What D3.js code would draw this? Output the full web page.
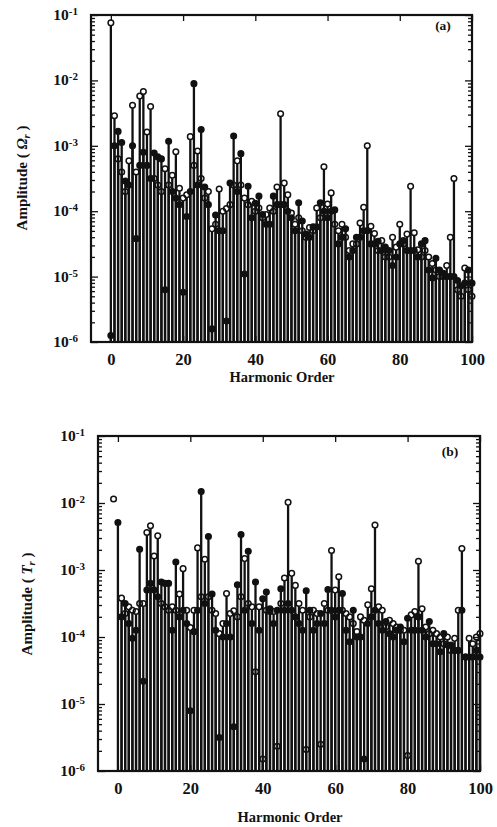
<!DOCTYPE html>
<html>
<head>
<meta charset="utf-8">
<script src="https://cdn.jsdelivr.net/npm/d3@7"></script>
<style>
  body { margin: 0; background: #fff; }
  svg { display: block; }
  text { font-family: "Liberation Serif", "DejaVu Serif", serif; font-weight: bold; fill: #111; }
</style>
</head>
<body>
<svg id="chart" width="497" height="827"></svg>
<script>
// harmonic orders 0..100, one stem per order for each series
const harmonics = d3.range(0, 101);
const xTicks = [0, 20, 40, 60, 80, 100];
const yDecades = [1e-1, 1e-2, 1e-3, 1e-4, 1e-5, 1e-6];

// values are read as log10(amplitude) off the log axis
// panel (a): open circles / filled circles
const aOpenExp = [
  -1.12, -2.54, -3.2, -3.4, -3.7, -3.23, -2.38, -3.4, -2.24, -2.17,
  -2.79, -2.4, -3.5, -3.6, -3.7, -3.35, -3.6, -3.45, -3.09, -3.65,
  -3.8, -3.75, -2.86, -3.3, -3.08, -3.5, -3.8, -3.7, -4.27, -4.2,
  -3.66, -4.0, -3.96, -3.9, -3.6, -3.23, -3.6, -3.8, -3.9, -3.85,
  -4.0, -3.95, -4.1, -4.05, -3.95, -4.0, -3.63, -2.51, -3.57, -3.75,
  -4.03, -4.2, -4.1, -4.3, -4.4, -4.25, -4.3, -3.95, -4.1, -3.32,
  -3.89, -3.72, -4.2, -4.3, -4.2, -4.4, -4.6, -4.5, -4.5, -4.18,
  -3.94, -3.0, -4.23, -4.34, -4.6, -4.45, -4.7, -4.7, -4.4, -4.55,
  -4.2, -4.5, -4.35, -3.62, -4.33, -4.59, -4.7, -4.6, -4.7, -4.8,
  -4.9, -5.0, -5.0, -4.83, -4.4, -3.5, -5.2, -5.3, -4.87, -5.2,
  -5.3
];
const aFilledExp = [
  -5.9, -3.0, -2.78, -2.95, -3.54, -3.6, -3.0, -4.42, -3.3, -3.1,
  -3.3, -3.5, -3.11, -3.17, -3.2, -5.2, -2.93, -3.7, -3.8, -3.9,
  -5.24, -4.08, -3.7, -2.05, -3.6, -2.75, -3.63, -3.9, -5.8, -4.06,
  -4.3, -4.3, -5.68, -3.57, -2.85, -3.7, -3.12, -4.96, -3.62, -4.1,
  -3.88, -3.77, -4.05, -4.2, -4.2, -3.77, -3.9, -3.9, -3.9, -4.0,
  -4.1, -4.3, -3.87, -4.15, -4.35, -4.4, -4.24, -4.24, -3.87, -4.0,
  -4.1, -4.0, -3.98, -4.5, -4.4, -4.27, -4.7, -4.6, -4.4, -4.4,
  -4.3, -4.3, -4.5, -4.5, -4.46, -4.6, -4.55, -4.6, -4.83, -4.7,
  -4.5, -4.45, -4.6, -4.6, -4.6, -4.7, -4.5, -4.45, -4.9, -5.02,
  -4.72, -4.9, -4.95, -5.0, -5.0, -5.0, -5.06, -5.14, -5.1, -4.9,
  -5.1
];

// panel (b)
const bOpenExp = [
  null, -3.42, -3.65, -3.55, -3.6, -3.62, -3.5, -3.5, -2.44, -2.34,
  -2.79, -2.49, -3.5, -3.55, -3.6, -3.55, -3.6, -3.36, -2.98, -3.6,
  -3.86, -3.6, -2.67, -3.4, -2.84, -3.4, -3.6, -3.65, -3.95, -3.8,
  -3.35, -3.65, -3.61, -3.7, -3.4, -2.83, -3.5, -3.55, -4.52, -3.55,
  -5.82, -3.6, -3.62, -3.62, -5.63, -3.5, -3.12, -1.99, -3.05, -3.23,
  -3.5, -3.6, -5.68, -3.7, -3.6, -3.65, -5.6, -3.5, -3.6, -2.71,
  -3.3, -3.1, -3.6, -3.65, -3.7, -3.8, -3.92, -3.7, -3.75, -3.52,
  -3.28, -2.33, -3.55, -3.6, -3.85, -3.75, -3.8, -3.85, -3.9, -3.9,
  -5.77, -3.67, -3.62, -2.87, -3.58, -3.85, -3.95, -3.9, -3.95, -4.0,
  -4.1, -4.0, -4.2, -4.02, -3.6, -2.68, -4.3, -4.02, -4.1, -4.0,
  -3.95
];
const bFilledExp = [
  -2.29, -3.7, -3.5, -3.8, -4.02, -3.9, -2.69, -4.66, -3.3, -3.2,
  -3.3, -3.4, -3.18, -3.2, -3.2, -3.9, -2.88, -3.7, -3.6, -3.8,
  -5.1, -3.92, -3.6, -1.83, -3.5, -2.5, -3.36, -3.9, -5.5, -4.0,
  -3.8, -4.0, -5.34, -3.22, -2.47, -3.6, -2.72, -3.8, -3.18, -3.9,
  -3.43, -3.33, -3.58, -3.8, -3.6, -3.28, -3.6, -3.5, -3.6, -3.7,
  -3.8, -3.9, -3.31, -3.6, -3.9, -3.8, -3.65, -3.8, -3.29, -3.6,
  -3.7, -3.6, -3.35, -3.9, -4.07, -3.6, -4.0, -4.0, -5.82, -3.8,
  -3.7, -3.6, -3.8, -3.9, -3.77, -3.95, -4.0, -3.9, -3.85, -4.07,
  -3.72, -3.9, -3.9, -3.7, -3.9, -4.0, -3.77, -4.1, -4.1, -4.22,
  -3.95, -4.12, -4.12, -4.2, -4.2, -3.6, -4.3, -4.3, -4.3, -4.2,
  -4.3
];
// lone open circle left of order 0 in (b), drawn without a stem
const bLoneOpen = [{ h: -1.2, e: -1.94 }];

const svg = d3.select("#chart");
svg.append("rect").attr("width", 497).attr("height", 827).attr("fill", "#fff");

const R = 2.8;

function drawPanel(cfg) {
  const x = d3.scaleLinear().domain([-5.5, 100]).range([cfg.left, cfg.right]);
  const y = d3.scaleLog().domain([1e-6, 1e-1]).range([cfg.bottom, cfg.top]);
  const g = svg.append("g");

  const pts = [];
  cfg.open.forEach((e, i) => { if (e !== null) pts.push({ h: harmonics[i], v: Math.pow(10, e), open: true }); });
  cfg.filled.forEach((e, i) => { if (e !== null) pts.push({ h: harmonics[i], v: Math.pow(10, e), open: false }); });

  // stems
  g.append("g")
    .attr("stroke", "#111")
    .attr("stroke-width", 2.3)
    .selectAll("line")
    .data(pts)
    .join("line")
    .attr("x1", d => x(d.h)).attr("x2", d => x(d.h))
    .attr("y1", y(1e-6))
    .attr("y2", d => y(d.v) + R);

  // markers
  const lone = (cfg.lone || []).map(d => ({ h: d.h, v: Math.pow(10, d.e), open: true }));
  g.append("g")
    .selectAll("circle")
    .data(pts.concat(lone))
    .join("circle")
    .attr("cx", d => x(d.h))
    .attr("cy", d => y(d.v))
    .attr("r", R)
    .attr("fill", d => d.open ? "none" : "#111")
    .attr("stroke", "#111")
    .attr("stroke-width", 1.5);

  // minor log ticks
  const minor = [];
  [1e-6, 1e-5, 1e-4, 1e-3, 1e-2].forEach(dec => {
    d3.range(2, 10).forEach(k => minor.push(k * dec));
  });

  const axes = g.append("g").attr("stroke-width", 1.3);
  axes.append("g").attr("transform", `translate(${cfg.left},0)`)
    .call(d3.axisLeft(y).tickValues(yDecades).tickSize(-7).tickFormat(""));
  axes.append("g").attr("transform", `translate(${cfg.left},0)`)
    .call(d3.axisLeft(y).tickValues(minor).tickSize(-4).tickFormat(""));
  axes.append("g").attr("transform", `translate(${cfg.right},0)`)
    .call(d3.axisRight(y).tickValues(yDecades).tickSize(-7).tickFormat(""));
  axes.append("g").attr("transform", `translate(${cfg.right},0)`)
    .call(d3.axisRight(y).tickValues(minor).tickSize(-4).tickFormat(""));
  axes.append("g").attr("transform", `translate(0,${cfg.top})`)
    .call(d3.axisTop(x).tickValues(xTicks).tickSize(-6).tickFormat(""));
  axes.append("g").attr("class", "xaxis").attr("transform", `translate(0,${cfg.bottom})`)
    .call(d3.axisBottom(x).tickValues(xTicks).tickSizeInner(-6).tickSizeOuter(0).tickPadding(11).tickFormat(d3.format("d")));
  axes.selectAll(".domain").remove();
  axes.selectAll(".tick line").attr("stroke", "#111");
  axes.selectAll(".xaxis text")
    .attr("font-family", "'Liberation Serif', serif")
    .attr("font-weight", "bold")
    .attr("font-size", 16.5)
    .attr("fill", "#111");

  // frame
  g.append("rect")
    .attr("x", cfg.left).attr("y", cfg.top)
    .attr("width", cfg.right - cfg.left).attr("height", cfg.bottom - cfg.top)
    .attr("fill", "none").attr("stroke", "#111").attr("stroke-width", 2.2);

  // y tick labels 10^n
  const yl = g.append("g").selectAll("text")
    .data(yDecades)
    .join("text")
    .attr("x", cfg.left - 13)
    .attr("y", d => y(d) + 5)
    .attr("text-anchor", "end")
    .attr("font-size", 15.5);
  yl.append("tspan").text("10");
  yl.append("tspan")
    .attr("font-size", 11)
    .attr("dy", -5)
    .text(d => String(Math.round(Math.log10(d))));

  // axis titles
  const yt = g.append("text")
    .attr("transform", `translate(${cfg.yTitleX},${cfg.yTitleY}) rotate(-90)`)
    .attr("text-anchor", "middle")
    .attr("font-size", 15);
  yt.append("tspan").text("Amplitude ( ");
  yt.append("tspan").attr("font-style", "italic").text(cfg.sym);
  yt.append("tspan").attr("font-style", "italic").attr("font-size", 10.5).attr("dy", 3).text("r");
  yt.append("tspan").attr("dy", -3).text(" )");

  g.append("text")
    .attr("x", cfg.xTitleX).attr("y", cfg.xTitleY)
    .attr("text-anchor", "middle")
    .attr("font-size", 14.5)
    .text("Harmonic Order");

  g.append("text")
    .attr("x", cfg.tagX).attr("y", cfg.tagY)
    .attr("text-anchor", "middle")
    .attr("font-size", 13.5)
    .text(cfg.tag);
}

drawPanel({
  left: 91, right: 472, top: 15, bottom: 342,
  open: aOpenExp, filled: aFilledExp,
  sym: "Ω", tag: "(a)", tagX: 443, tagY: 30,
  yTitleX: 27, yTitleY: 178, xTitleX: 282, xTitleY: 382
});

drawPanel({
  left: 98, right: 480, top: 436, bottom: 771,
  open: bOpenExp, filled: bFilledExp, lone: bLoneOpen,
  sym: "T", tag: "(b)", tagX: 450, tagY: 456,
  yTitleX: 32, yTitleY: 604, xTitleX: 290, xTitleY: 822
});
</script>
</body>
</html>
